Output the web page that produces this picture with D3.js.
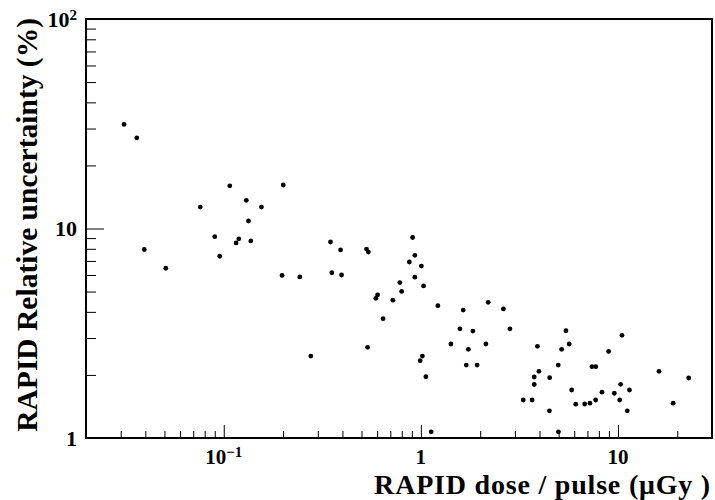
<!DOCTYPE html>
<html>
<head>
<meta charset="utf-8">
<script src="https://cdn.jsdelivr.net/npm/d3@7"></script>
<style>
  body { margin: 0; background: #fff; }
  svg { display: block; }
</style>
</head>
<body>
<svg></svg>
<script>
// RAPID dose per pulse vs relative uncertainty (log-log scatter)

const dose = [
  0.0312, 0.0362, 0.0395, 0.0508, 0.0760, 0.0900, 0.0954, 0.1073, 0.1155, 0.1192,
  0.1301, 0.1335, 0.1371, 0.1553, 0.2004, 0.1976, 0.2430, 0.2764, 0.3479, 0.3913,
  0.3533, 0.3959, 0.530, 0.5415, 0.5364, 0.5908, 0.603, 0.643, 0.721, 0.782,
  0.799, 0.874, 0.908, 0.932, 0.932, 1.006, 1.032, 1.018, 0.992, 1.06,
  1.128, 1.22, 1.42, 1.578, 1.64, 1.70, 1.742, 1.837, 1.929, 2.138,
  2.196, 2.623, 2.830, 3.307, 3.668, 3.760, 3.760, 3.903, 3.972, 4.502,
  4.491, 4.977, 4.989, 5.178, 5.445, 5.659, 5.821, 6.106, 6.776, 7.208,
  7.38, 7.716, 7.707, 8.295, 8.970, 9.58, 10.32, 10.20, 10.48, 11.15,
  11.44, 16.15, 19.06, 22.85
];

const uncertainty = [
  31.4, 27.1, 7.94, 6.46, 12.66, 9.14, 7.37, 15.99, 8.53, 8.93,
  13.63, 10.86, 8.72, 12.66, 16.13, 5.97, 5.87, 2.46, 8.62, 7.90,
  6.15, 6.00, 7.98, 7.72, 2.71, 4.64, 4.82, 3.71, 4.55, 5.52,
  5.01, 6.92, 9.06, 7.45, 5.86, 6.62, 5.32, 2.46, 2.34, 1.96,
  1.07, 4.28, 2.81, 3.32, 4.08, 2.23, 2.65, 3.24, 2.23, 2.81,
  4.44, 4.13, 3.32, 1.518, 1.518, 1.955, 1.80, 2.74, 2.08, 1.94,
  1.348, 2.23, 1.07, 2.65, 3.25, 2.81, 1.695, 1.450, 1.453, 1.466,
  2.19, 2.19, 1.518, 1.654, 2.59, 1.635, 1.804, 1.518, 3.09, 1.348,
  1.695, 2.08, 1.466, 1.934
];

const xMajor = [0.1, 1, 10];
const xMinor = [0.03, 0.04, 0.05, 0.06, 0.07, 0.08, 0.09,
                0.2, 0.3, 0.4, 0.5, 0.6, 0.7, 0.8, 0.9,
                2, 3, 4, 5, 6, 7, 8, 9, 20];
const xLabels = [["10", "\u22121"], ["1", ""], ["10", ""]];

const yMajor = [1, 10, 100];
const yMinor = [2, 3, 4, 5, 6, 7, 8, 9, 20, 30, 40, 50, 60, 70, 80, 90];
const yLabels = [["1", ""], ["10", ""], ["10", "2"]];

const points = dose.map((d, i) => ({x: d, y: uncertainty[i]}));

const W = 715, H = 500;
const margin = {top: 19, right: 3, bottom: 62, left: 86};
const font = "'Liberation Serif', 'Times New Roman', serif";

const svg = d3.select("svg")
    .attr("width", W)
    .attr("height", H);

// scales
const x = d3.scaleLog()
    .domain([0.02, 30])
    .range([margin.left, W - margin.right]);

const y = d3.scaleLog()
    .domain([1, 100])
    .range([H - margin.bottom, margin.top]);

const plotH = H - margin.bottom - margin.top;
const plotW = W - margin.right - margin.left;

// ticks (pointing into the frame)
const axisStyle = g => {
  g.select(".domain").remove();
  g.selectAll("line").attr("stroke", "#000").attr("stroke-width", 1);
};

svg.append("g")
    .attr("transform", `translate(0,${H - margin.bottom})`)
    .call(d3.axisBottom(x).tickValues(xMinor).tickSize(-7).tickFormat(""))
    .call(axisStyle);

svg.append("g")
    .attr("transform", `translate(0,${H - margin.bottom})`)
    .call(d3.axisBottom(x).tickValues(xMajor).tickSize(-13).tickFormat(""))
    .call(axisStyle);

svg.append("g")
    .attr("transform", `translate(${margin.left},0)`)
    .call(d3.axisLeft(y).tickValues(yMinor).tickSize(-10).tickFormat(""))
    .call(axisStyle);

svg.append("g")
    .attr("transform", `translate(${margin.left},0)`)
    .call(d3.axisLeft(y).tickValues(yMajor).tickSize(-18).tickFormat(""))
    .call(axisStyle);

// frame
svg.append("rect")
    .attr("x", margin.left)
    .attr("y", margin.top)
    .attr("width", plotW)
    .attr("height", plotH)
    .attr("fill", "none")
    .attr("stroke", "#000")
    .attr("stroke-width", 2);

// tick labels
const xl = svg.append("g")
    .selectAll("text")
    .data(xMajor)
    .enter().append("text")
      .attr("x", d => x(d))
      .attr("y", H - margin.bottom + 26)
      .attr("text-anchor", "middle")
      .style("font-family", font)
      .style("font-weight", "bold")
      .style("font-size", "21px");
xl.append("tspan").text((d, i) => xLabels[i][0]);
xl.append("tspan")
    .attr("dy", "-0.45em")
    .style("font-size", "15px")
    .text((d, i) => xLabels[i][1]);

const yl = svg.append("g")
    .selectAll("text")
    .data(yMajor)
    .enter().append("text")
      .attr("x", margin.left - 9)
      .attr("y", d => y(d))
      .attr("dy", "0.35em")
      .attr("text-anchor", "end")
      .style("font-family", font)
      .style("font-weight", "bold")
      .style("font-size", "22px");
yl.append("tspan").text((d, i) => yLabels[i][0]);
yl.append("tspan")
    .attr("dy", "-0.45em")
    .style("font-size", "15px")
    .text((d, i) => yLabels[i][1]);

// axis titles
svg.append("text")
    .attr("x", W - 4)
    .attr("y", 493.5)
    .attr("text-anchor", "end")
    .style("font-family", font)
    .style("font-weight", "bold")
    .style("font-size", "28px")
    .style("letter-spacing", "0.8px")
    .text("RAPID dose / pulse (\u03bcGy )");

svg.append("text")
    .attr("transform", "rotate(-90)")
    .attr("x", -margin.top + 1)
    .attr("y", 37)
    .attr("text-anchor", "end")
    .style("font-family", font)
    .style("font-weight", "bold")
    .style("font-size", "29.5px")
    .text("RAPID Relative uncertainty (%)");

// markers
svg.append("g")
    .selectAll("circle")
    .data(points)
    .enter().append("circle")
      .attr("cx", d => x(d.x))
      .attr("cy", d => y(d.y))
      .attr("r", 2.4)
      .attr("fill", "#000");
</script>
</body>
</html>
